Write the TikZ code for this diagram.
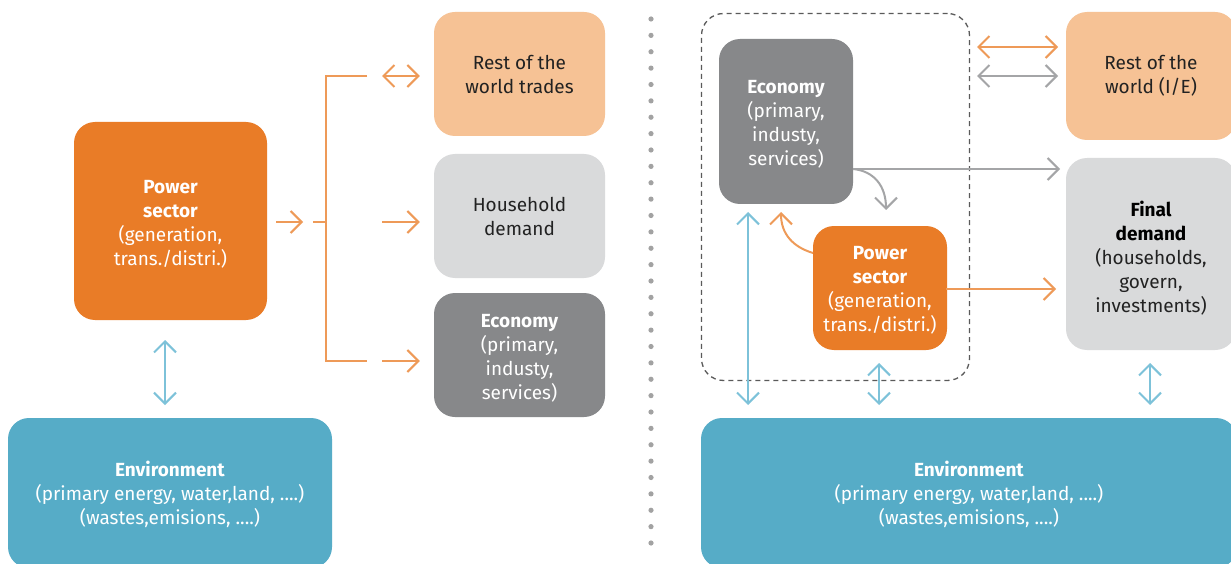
\documentclass[tikz,border=0pt]{standalone}
\usepackage{fontspec}
\setmainfont{Fira Sans}
\usetikzlibrary{arrows.meta}
\definecolor{cOrange}{HTML}{E97C27}
\definecolor{cLOrange}{HTML}{F6C295}
\definecolor{cLGrey}{HTML}{D9DADB}
\definecolor{cDGrey}{HTML}{87888A}
\definecolor{cBlue}{HTML}{56ACC7}
\definecolor{aOrange}{HTML}{EE9A58}
\definecolor{aGrey}{HTML}{A4A5A7}
\definecolor{aBlue}{HTML}{7DC2D9}
\definecolor{cDots}{HTML}{A2A2A2}
\definecolor{cDash}{HTML}{5A5A5A}
\definecolor{cText}{HTML}{222222}
\newcommand\toppad[1]{\rule{0pt}{#1}}
\tikzset{
  box/.style={rounded corners=21pt, inner sep=0pt, align=center,
    font=\fontsize{19}{24}\selectfont},
  darkbox/.style={box, text=white},
  lightbox/.style={box, text=cText},
  conn/.style={line width=2pt},
  tip/.style={-{Straight Barb[length=11pt,width=22pt,line width=2pt]}},
  dtip/.style={{Straight Barb[length=11pt,width=22pt,line width=2pt]}-{Straight Barb[length=11pt,width=22pt,line width=2pt]}},
  oline/.style={conn, draw=aOrange},
  gline/.style={conn, draw=aGrey},
  bline/.style={conn, draw=aBlue},
}
\begin{document}
\begin{tikzpicture}[x=1pt,y=-1pt]
\clip (0,0) rectangle (1231,564);
\fill[white] (0,0) rectangle (1231,564);

% ---------- left half ----------
\node[darkbox, fill=cOrange, minimum width=193pt, minimum height=198pt] (ps1) at (170.5,221)
  {\toppad{19pt}\textbf{Power}\\\textbf{sector}\\(generation,\\trans./distri.)};
\node[lightbox, fill=cLOrange, minimum width=171pt, minimum height=124pt] (rw1) at (519.5,74)
  {Rest of the\\world trades};
\node[lightbox, fill=cLGrey, minimum width=171pt, minimum height=124pt] (hd1) at (519.5,216)
  {Household\\demand};
\node[darkbox, fill=cDGrey, minimum width=171pt, minimum height=124pt] (ec1) at (519.5,355)
  {\toppad{19pt}\textbf{Economy}\\(primary,\\industy,\\services)};
\node[darkbox, fill=cBlue, minimum width=324pt, minimum height=150pt] (en1) at (170,493)
  {\toppad{18pt}\textbf{Environment}\\(primary energy, water,land, ....)\\(wastes,emisions, ....)};

\coordinate (l1s) at (276,222);
\coordinate (l1e) at (303,222);
\coordinate (brs) at (313,222);
\coordinate (brm) at (326,222);
\coordinate (brt) at (326,76);
\coordinate (brb) at (326,361);
\coordinate (brte) at (367,76);
\coordinate (brbe) at (367,361);
\coordinate (ar1s) at (382,76);
\coordinate (ar2s) at (382,222);
\coordinate (ar3s) at (382,361);

\draw[oline, tip] (l1s) -- (l1e);
\draw[oline] (brs) -- (brm);
\draw[oline] (brte) -- (brt) -- (brb) -- (brbe);
\draw[oline, dtip] (ar1s) -- ([xshift=-14pt]ar1s -| rw1.west);
\draw[oline, tip] (ar2s) -- ([xshift=-14pt]ar2s -| hd1.west);
\draw[oline, tip] (ar3s) -- ([xshift=-14pt]ar3s -| ec1.west);

\coordinate (b1t) at (165,340);
\coordinate (b1b) at (165,405);
\draw[bline, dtip] (b1t) -- (b1b);

% ---------- separator ----------
\foreach \i in {0,...,32} {
  \fill[cDots] (651,19+\i*16.375) circle (2.6pt);
}

% ---------- right half ----------
\node[draw=cDash, line width=1.3pt, dash pattern=on 5pt off 4pt, rounded corners=22pt,
  minimum width=268pt, minimum height=367pt, inner sep=0pt] (grp) at (835.5,197) {};
\node[darkbox, fill=cDGrey, minimum width=134pt, minimum height=165pt] (ec2) at (786,121.5)
  {\toppad{19pt}\textbf{Economy}\\(primary,\\industy,\\services)};
\node[darkbox, fill=cOrange, minimum width=134pt, minimum height=124pt] (ps2) at (880,288)
  {\toppad{18pt}\textbf{Power}\\\textbf{sector}\\(generation,\\trans./distri.)};
\node[lightbox, fill=cLOrange, minimum width=170pt, minimum height=128pt] (rw2) at (1151,76)
  {Rest of the\\world (I/E)};
\node[lightbox, fill=cLGrey, minimum width=170pt, minimum height=192pt] (fd2) at (1151,254)
  {\toppad{24pt}\textbf{\color{black}Final}\\\textbf{\color{black}demand}\\(households,\\govern,\\investments)};
\node[darkbox, fill=cBlue, minimum width=536pt, minimum height=150pt] (en2) at (969,493)
  {\toppad{18pt}\textbf{Environment}\\(primary energy, water,land, ....)\\(wastes,emisions, ....)};

\coordinate (r1s) at (977,47);
\coordinate (r1e) at (1058,47);
\coordinate (r2s) at (977,76);
\coordinate (r2e) at (1058,76);
\coordinate (egs) at (853,169);
\coordinate (ege) at (1060,169);
\coordinate (egc) at (886,210);
\coordinate (pos) at (813,253);
\coordinate (poc) at (781,212);
\coordinate (pfs) at (946,289);
\coordinate (pfe) at (1056,289);

\draw[oline, dtip] (r1s) -- (r1e);
\draw[gline, dtip] (r2s) -- (r2e);
\draw[gline, tip] (egs) -- (ege);
\draw[gline, tip] (egs) .. controls (874,171) and (886,186) .. (egc);
\draw[oline, tip] (pos) .. controls (793,247) and (781,234) .. (poc);
\draw[oline, tip] (pfs) -- (pfe);

\coordinate (b2t) at (748,212);
\coordinate (b2b) at (748,405);
\coordinate (b3t) at (879,363);
\coordinate (b3b) at (879,405);
\coordinate (b4t) at (1150,363);
\coordinate (b4b) at (1150,405);
\draw[bline, dtip] (b2t) -- (b2b);
\draw[bline, dtip] (b3t) -- (b3b);
\draw[bline, dtip] (b4t) -- (b4b);
\end{tikzpicture}
\end{document}
